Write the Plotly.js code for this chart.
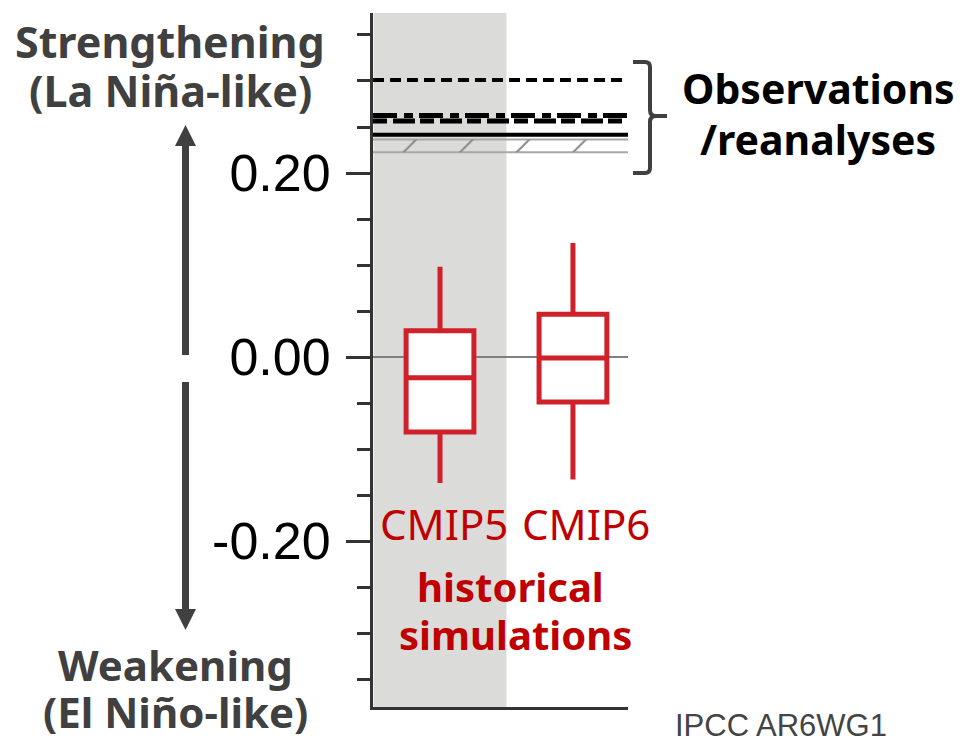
<!DOCTYPE html>
<html>
<head>
<meta charset="utf-8">
<script src="https://cdn.plot.ly/plotly-3.0.1.min.js"></script>
<style>html,body{margin:0;padding:0;background:#fff;}#chart{width:966px;height:747px;}</style>
</head>
<body>
<div id="chart"></div>
<script>
// ---- data ----
const categories = ["CMIP5", "CMIP6"];
const upperWhisker = [0.098, 0.124];
const q3Values = [0.0285, 0.0465];
const medianValues = [-0.0225, -0.001];
const q1Values = [-0.0815, -0.049];
const lowerWhisker = [-0.137, -0.133];
const obsLevels = [0.301, 0.2625, 0.2565, 0.2415];
const obsBand = [0.2225, 0.2365];
const yTickVals = [-0.2, 0, 0.2];
const yTickText = ["-0.20", "0.00", "0.20"];

// ---- layout helpers (pixel -> paper) ----
const M = {l: 373, r: 338, t: 13, b: 40};
const W = 966, H = 747;
const PW = W - M.l - M.r, PH = H - M.t - M.b;
const xp = px => (px - M.l) / PW;
const yp = py => (H - M.b - py) / PH;
const xRange = [-0.504, 1.414];
const catIdx = categories.map((c, i) => i);

const dark = '#404040';
const red = '#c00000';
const boxRed = '#d0202a';

const obsStyles = [
  {dash: '11px,6px', width: 4},
  {dash: '24px,7px,9px,6px', width: 5},
  {dash: '14px,6px,22px,5px', width: 5},
  {dash: 'solid', width: 4}
];

const shapes = [];
// shaded CMIP5 column
shapes.push({type: 'rect', xref: 'x', yref: 'paper', x0: catIdx[0] - 0.5, x1: catIdx[0] + 0.5, y0: 0, y1: 1,
  fillcolor: '#dbdbd9', line: {width: 0}, layer: 'below'});
// observation lines
obsLevels.forEach((v, i) => shapes.push({type: 'line', xref: 'paper', yref: 'y', x0: 0, x1: 1, y0: v, y1: v,
  line: {color: '#000', width: obsStyles[i].width, dash: obsStyles[i].dash}, layer: 'below'}));
obsBand.forEach(v => shapes.push({type: 'line', xref: 'paper', yref: 'y', x0: 0, x1: 1, y0: v, y1: v,
  line: {color: '#a8a8a8', width: 2}, layer: 'below'}));

// bracket
function P(x, y) { return xp(x) + ',' + yp(y); }
const bracketPath = 'M' + P(633, 62) + ' L' + P(645, 62) + ' Q' + P(650, 62) + ' ' + P(650, 67) +
  ' L' + P(650, 110) + ' Q' + P(650, 116) + ' ' + P(656, 116) + ' L' + P(667, 116) +
  ' M' + P(656, 116) + ' Q' + P(650, 116) + ' ' + P(650, 122) + ' L' + P(650, 168) +
  ' Q' + P(650, 173) + ' ' + P(645, 173) + ' L' + P(633, 173);
shapes.push({type: 'path', xref: 'paper', yref: 'paper', path: bracketPath, line: {color: dark, width: 4}});

// arrows
const ax = 185.5;
shapes.push({type: 'line', xref: 'paper', yref: 'paper', x0: xp(ax), x1: xp(ax), y0: yp(144), y1: yp(355), line: {color: dark, width: 7}});
shapes.push({type: 'path', xref: 'paper', yref: 'paper', path: 'M' + P(175, 146) + ' L' + P(196, 146) + ' L' + P(ax, 125) + ' Z', fillcolor: dark, line: {width: 0}});
shapes.push({type: 'line', xref: 'paper', yref: 'paper', x0: xp(ax), x1: xp(ax), y0: yp(382), y1: yp(611), line: {color: dark, width: 7}});
shapes.push({type: 'path', xref: 'paper', yref: 'paper', path: 'M' + P(175, 609) + ' L' + P(196, 609) + ' L' + P(ax, 630) + ' Z', fillcolor: dark, line: {width: 0}});

function ann(text, cx, cy, size, color, bold, family, anchor) {
  return {xref: 'paper', yref: 'paper', x: xp(cx), y: yp(cy), text: bold ? '<b>' + text + '</b>' : text,
    showarrow: false, xanchor: anchor || 'center', yanchor: 'middle',
    font: {family: family || 'Noto Sans', size: size, color: color}};
}
const annotations = [
  ann('Strengthening', 170, 41, 43, dark, true),
  ann('(La Niña-like)', 170, 91, 43, dark, true),
  ann('Weakening', 175, 664, 42, dark, true),
  ann('(El Niño-like)', 175, 711, 42, dark, true),
  ann('Observations', 818, 88, 41, '#000', true),
  ann('/reanalyses', 818, 139, 41, '#000', true),
  ann('historical', 510, 586, 40, red, true),
  ann('simulations', 515, 634, 40, red, true),
  ann('IPCC AR6WG1', 673, 725, 31, '#444', false, 'Liberation Sans', 'left')
];
// category labels
const labelShift = [4, 13];
categories.forEach((c, i) => annotations.push({xref: 'x', yref: 'paper', x: catIdx[i], xshift: labelShift[i], y: yp(523),
  text: c, showarrow: false, xanchor: 'center', yanchor: 'middle', font: {family: 'Noto Sans', size: 42, color: red}}));

const traces = [
  {
    type: 'scatter', mode: 'none', hoverinfo: 'skip',
    x: [xRange[0], xRange[1], xRange[1], xRange[0], xRange[0]],
    y: [obsBand[0], obsBand[0], obsBand[1], obsBand[1], obsBand[0]],
    fill: 'toself', fillcolor: 'rgba(0,0,0,0)',
    fillpattern: {shape: '/', size: 40, solidity: 0.05, fgcolor: '#8a8a8a', bgcolor: 'rgba(0,0,0,0)'},
    showlegend: false
  },
  {
    type: 'box', x: catIdx, q1: q1Values, median: medianValues, q3: q3Values,
    lowerfence: lowerWhisker, upperfence: upperWhisker,
    boxpoints: false, whiskerwidth: 0, width: 0.51,
    line: {color: boxRed, width: 5}, fillcolor: '#ffffff', showlegend: false
  }
];

const layout = {
  width: W, height: H,
  margin: M,
  paper_bgcolor: '#fff', plot_bgcolor: '#fff',
  showlegend: false,
  xaxis: {range: xRange, showline: true, linewidth: 3, linecolor: '#333', showticklabels: false, ticks: '',
    showgrid: false, zeroline: false, fixedrange: true},
  yaxis: {range: [-0.3804, 0.3739], showline: true, linewidth: 3, linecolor: '#333',
    tickmode: 'array', tickvals: yTickVals, ticktext: yTickText,
    ticks: 'outside', ticklen: 24, tickwidth: 3, tickcolor: '#333',
    ticklabelstandoff: 5,
    minor: {dtick: 0.05, tick0: 0, ticks: 'outside', ticklen: 13, tickwidth: 3, tickcolor: '#333', showgrid: false},
    tickfont: {family: 'Liberation Sans', size: 52, color: '#000'},
    showgrid: false, zeroline: true, zerolinecolor: '#808080', zerolinewidth: 1.5},
  shapes: shapes,
  annotations: annotations
};

Plotly.newPlot('chart', traces, layout, {staticPlot: true});
</script>
</body>
</html>
